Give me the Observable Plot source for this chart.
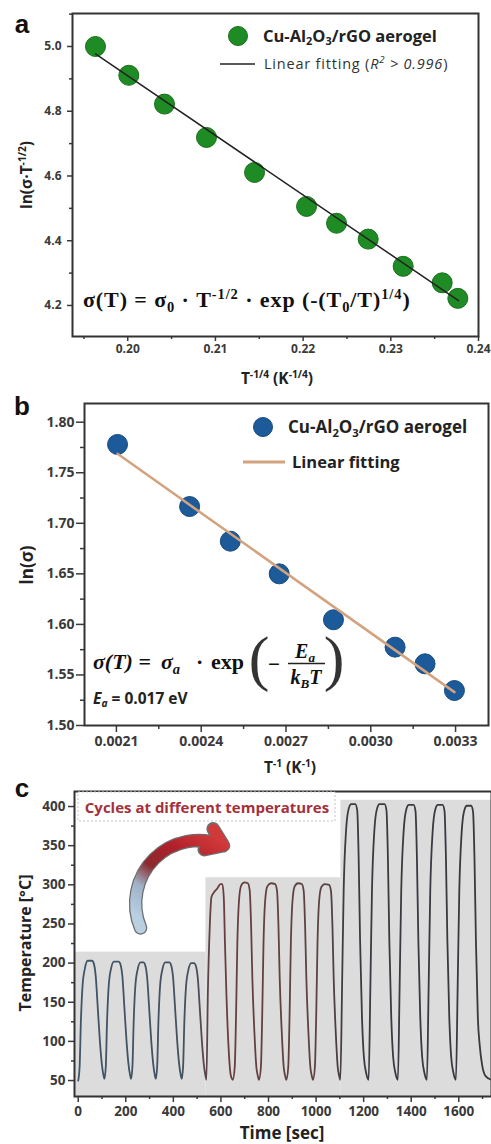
<!DOCTYPE html>
<html><head><meta charset="utf-8">
<script src="https://cdn.jsdelivr.net/npm/d3@7"></script>
<script src="https://cdn.jsdelivr.net/npm/@observablehq/plot@0.6"></script>
<style>
body{margin:0;background:#fff;}
#wrap{position:relative;width:491px;height:1144px;overflow:hidden;background:#fff;}
</style></head><body><div id="wrap"></div>
<script>
// ---------- Panel a data ----------
const aX = [0.19632, 0.20012, 0.20419, 0.20898, 0.21446, 0.22039, 0.22381, 0.22742, 0.23141, 0.23586, 0.23764];
const aY = [5.000, 4.911, 4.822, 4.719, 4.611, 4.506, 4.454, 4.405, 4.321, 4.270, 4.222];
const aFitX = [0.19632, 0.23772];
const aFitY = [4.977, 4.215];
const aXTicks = [0.20, 0.21, 0.22, 0.23, 0.24];
const aXMinor = [0.195, 0.205, 0.215, 0.225, 0.235];
const aYTicks = [4.2, 4.4, 4.6, 4.8, 5.0];
const aYMinor = [4.3, 4.5, 4.7, 4.9, 5.1];

// ---------- Panel b data ----------
const bX = [0.002104, 0.002359, 0.002503, 0.002676, 0.002868, 0.003086, 0.003192, 0.003296];
const bY = [1.778, 1.7166, 1.6823, 1.650, 1.6046, 1.5775, 1.561, 1.5346];
const bFitX = [0.002104, 0.003296];
const bFitY = [1.7687, 1.533];
const bXTicks = [0.0021, 0.0024, 0.0027, 0.0030, 0.0033];
const bXMinor = [0.00225, 0.00255, 0.00285, 0.00315];
const bYTicks = [1.50, 1.55, 1.60, 1.65, 1.70, 1.75, 1.80];
const bYMinor = [1.525, 1.575, 1.625, 1.675, 1.725, 1.775];

// ---------- Panel c data ----------
const tempTrace = [
 [0,50],[6,68],[11,123],[18,170],[28,193],[40,203],[58,203],[66,199],[74,182],[82,144],[91,101],[99,72],[106,57],[110,52],
 [116,68],[121,123],[128,170],[138,193],[150,202],[170,202],[178,198],[186,182],[194,144],[203,101],[211,72],[218,57],[222,52],
 [228,68],[233,123],[240,170],[250,192],[262,201],[274,201],[282,197],[290,181],[298,144],[307,101],[315,72],[322,57],[326,52],
 [332,68],[337,123],[344,170],[354,192],[366,201],[383,201],[391,197],[399,181],[407,144],[416,101],[424,72],[431,57],[435,52],
 [441,68],[446,123],[453,169],[463,191],[475,200],[487,200],[495,196],[503,180],[511,143],[520,100],[528,71],[535,56],[539,51],
 [545,161],[553,246],[560,284],[570,290],[584,295],[598,301],[606,301],[612,284],[617,225],[623,161],[632,93],[640,59],[645,53],[650,51],
 [658,67],[664,140],[669,225],[676,280],[685,299],[699,303],[713,302],[721,293],[727,246],[732,182],[741,110],[749,67],[755,56],[760,51],
 [768,67],[774,140],[779,225],[786,280],[795,298],[810,302],[828,301],[836,292],[842,246],[847,182],[856,110],[864,67],[870,56],[875,51],
 [883,67],[889,140],[894,225],[901,280],[910,298],[924,302],[940,301],[948,292],[954,246],[959,182],[968,110],[976,67],[982,56],[987,51],
 [995,67],[1001,140],[1006,225],[1013,280],[1022,297],[1036,301],[1055,300],[1063,291],[1069,245],[1074,181],[1083,110],[1091,67],[1097,56],[1102,51],
 [1109,165],[1116,293],[1126,369],[1137,397],[1148,403],[1165,403],[1173,395],[1179,335],[1185,229],[1193,131],[1201,80],[1211,59],[1221,51],
 [1228,165],[1235,293],[1245,369],[1256,397],[1267,403],[1288,403],[1296,395],[1302,335],[1308,229],[1316,131],[1324,80],[1334,59],[1344,51],
 [1351,165],[1358,292],[1368,368],[1379,396],[1390,402],[1410,402],[1418,394],[1424,334],[1430,229],[1438,131],[1446,80],[1456,59],[1466,51],
 [1473,165],[1480,292],[1490,368],[1501,396],[1512,402],[1532,402],[1540,394],[1546,334],[1552,229],[1560,131],[1568,80],[1578,59],[1588,51],
 [1595,165],[1602,291],[1612,367],[1623,395],[1634,401],[1652,401],[1660,393],[1666,333],[1672,229],[1680,131],[1688,95],[1698,70],[1712,56],[1737,51]
];
const bandStart = [-15.6, 537, 1104];
const bandEnd = [537, 1104, 1737.5];
const bandTop = [214, 309, 408];
const cXTicks = [0, 200, 400, 600, 800, 1000, 1200, 1400, 1600];
const cXMinor = [100, 300, 500, 700, 900, 1100, 1300, 1500, 1700];
const cYTicks = [50, 100, 150, 200, 250, 300, 350, 400];
const cYMinor = [75, 125, 175, 225, 275, 325, 375];
const arrowTail = [262, 245];
const arrowHead = [611, 350];

// ---------- helpers ----------
const W = 491;
const SANS = "'Open Sans', 'DejaVu Sans', sans-serif";
const SERIF = "'Liberation Serif', 'DejaVu Serif', serif";
const LAB = "'Liberation Sans', Arial, sans-serif";
const wrap = document.getElementById("wrap");

function rich(svg, o, parts) {
  const size = o.size;
  const t = d3.select(svg).append("text")
    .attr("font-family", o.family || SANS)
    .attr("font-size", size)
    .attr("font-weight", o.weight || "bold")
    .attr("fill", o.fill || "#222")
    .attr("text-anchor", o.anchor || "start");
  if (o.rotate) t.attr("transform", `translate(${o.x},${o.y}) rotate(${o.rotate})`);
  else t.attr("x", o.x).attr("y", o.y);
  if (o.fontStyle) t.attr("font-style", o.fontStyle);
  if (o.ls) t.attr("letter-spacing", o.ls);
  let shift = 0;
  for (const p of parts) {
    const s = typeof p === "string" ? {t: p} : p;
    const target = s.sup ? -size * 0.38 : s.sub ? size * 0.22 : 0;
    const ts = t.append("tspan").text(s.t);
    if (target !== shift) ts.attr("dy", target - shift);
    shift = target;
    if (s.sup || s.sub) ts.attr("font-size", size * 0.66);
    if (s.italic) ts.attr("font-style", "italic");
    if (s.w) ts.attr("font-weight", s.w);
  }
  return t;
}
function svgStyle(top) {
  return {position: "absolute", left: "0px", top: top + "px", background: "transparent", overflow: "visible", fontFamily: SANS};
}
function axes(xT, xM, yT, yM, fmtX, fmtY, o) {
  const common = {color: "#3a3a3a", fontWeight: "bold", label: null, strokeWidth: 1.5};
  return [
    Plot.axisX(xT, {...common, tickSize: o.xt, tickPadding: o.xp, tickFormat: fmtX, fontSize: o.fs}),
    Plot.axisX(xM, {...common, tickSize: o.xm, tickFormat: () => "", fontSize: o.fs}),
    Plot.axisY(yT, {...common, tickSize: o.yt, tickPadding: o.yp, tickFormat: fmtY, fontSize: o.fs}),
    Plot.axisY(yM, {...common, tickSize: o.ym, tickFormat: () => "", fontSize: o.fs})
  ];
}
function panelLabel(svg, ch, x, y) {
  d3.select(svg).append("text").attr("x", x).attr("y", y)
    .attr("font-family", LAB).attr("font-weight", "bold").attr("font-size", 26).attr("fill", "#111").text(ch);
}
const chemParts = ["Cu-Al", {t: "2", sub: true}, "O", {t: "3", sub: true}, "/rGO aerogel"];

// ---------- Panel a ----------
const ptsA = aX.map((x, i) => ({x, y: aY[i]}));
const fitA = aFitX.map((x, i) => ({x, y: aFitY[i]}));
const svgA = Plot.plot({
  width: W, height: 390,
  marginTop: 13, marginRight: 13, marginBottom: 54, marginLeft: 72,
  x: {domain: [0.1937, 0.2400], label: null},
  y: {domain: [4.1042, 5.1019], label: null},
  style: svgStyle(0),
  marks: [
    ...axes(aXTicks, aXMinor, aYTicks, aYMinor, d => d.toFixed(2), d => d.toFixed(1),
      {xt: 5, xp: 3, xm: 3, yt: 5, yp: 6, ym: 3, fs: 12}),
    Plot.dot(ptsA, {x: "x", y: "y", r: 10, fill: "#1f8b24", stroke: "#1a6e1d", strokeWidth: 1}),
    Plot.line(fitA, {x: "x", y: "y", stroke: "#222", strokeWidth: 1.5}),
    Plot.frame({stroke: "#333", strokeWidth: 2})
  ]
});
wrap.appendChild(svgA);
panelLabel(svgA, "a", 22, 33);
{
  const s = d3.select(svgA);
  s.append("circle").attr("cx", 238).attr("cy", 36).attr("r", 9.5).attr("fill", "#1f8b24").attr("stroke", "#1a6e1d");
  rich(svgA, {x: 263, y: 41.5, size: 16.5}, chemParts);
  s.append("line").attr("x1", 220).attr("x2", 255).attr("y1", 64).attr("y2", 64).attr("stroke", "#222").attr("stroke-width", 1.5);
  rich(svgA, {x: 264, y: 68.5, size: 14.5, weight: "normal", fill: "#333", ls: 0.8},
    ["Linear fitting (", {t: "R", italic: true}, {t: "2", sup: true, italic: true}, {t: " > 0.996", italic: true}, ")"]);
  rich(svgA, {x: 83, y: 307, size: 22, family: SERIF, fill: "#111", ls: 0.9},
    ["σ(T) = σ", {t: "0", sub: true}, " · T", {t: "-1/2", sup: true}, " · exp (-(T", {t: "0", sub: true}, "/T)", {t: "1/4", sup: true}, ")"]);
  rich(svgA, {x: 32, y: 175, size: 15.5, anchor: "middle", rotate: -90}, ["ln(σ·T", {t: "-1/2", sup: true}, ")"]);
  rich(svgA, {x: 277, y: 384, size: 15.5, anchor: "middle"}, ["T", {t: "-1/4", sup: true}, " (K", {t: "-1/4", sup: true}, ")"]);
}

// ---------- Panel b ----------
const ptsB = bX.map((x, i) => ({x, y: bY[i]}));
const fitB = bFitX.map((x, i) => ({x, y: bFitY[i]}));
const svgB = Plot.plot({
  width: W, height: 390,
  marginTop: 13, marginRight: 3, marginBottom: 55, marginLeft: 84,
  x: {domain: [0.0019871, 0.0034165], label: null},
  y: {domain: [1.50, 1.8185], label: null},
  style: svgStyle(390),
  marks: [
    ...axes(bXTicks, bXMinor, bYTicks, bYMinor, d => d.toFixed(4), d => d.toFixed(2),
      {xt: 7, xp: 4, xm: 4, yt: 8, yp: 2, ym: 4, fs: 14}),
    Plot.dot(ptsB, {x: "x", y: "y", r: 10, fill: "#1c5a99", stroke: "#164a80", strokeWidth: 1}),
    Plot.line(fitB, {x: "x", y: "y", stroke: "#d2a37e", strokeWidth: 2.5}),
    Plot.frame({stroke: "#333", strokeWidth: 2})
  ]
});
wrap.appendChild(svgB);
panelLabel(svgB, "b", 22, 25);
{
  const s = d3.select(svgB);
  s.append("circle").attr("cx", 263).attr("cy", 37).attr("r", 9.5).attr("fill", "#1c5a99").attr("stroke", "#164a80");
  rich(svgB, {x: 288, y: 43, size: 17}, chemParts);
  s.append("line").attr("x1", 243).attr("x2", 285).attr("y1", 72).attr("y2", 72).attr("stroke", "#d2a37e").attr("stroke-width", 3);
  rich(svgB, {x: 292, y: 78, size: 16.5}, ["Linear fitting"]);
  // equation
  rich(svgB, {x: 93, y: 279, size: 22, family: SERIF, fill: "#111"}, [{t: "σ(T)", italic: true}, " ="]);
  rich(svgB, {x: 161, y: 279, size: 22, family: SERIF, fill: "#111"}, [{t: "σ", italic: true}, {t: "a", sub: true, italic: true}]);
  rich(svgB, {x: 196, y: 279, size: 22, family: SERIF, fill: "#111"}, ["·"]);
  rich(svgB, {x: 211, y: 279, size: 22, family: SERIF, fill: "#111"}, ["exp"]);
  rich(svgB, {x: 259, y: 289, size: 62, family: SERIF, weight: "normal", fill: "#333", anchor: "middle"}, ["("]);
  rich(svgB, {x: 268, y: 281, size: 21, family: SERIF, fill: "#111"}, ["−"]);
  rich(svgB, {x: 305, y: 268, size: 20, family: SERIF, fill: "#111", anchor: "middle"},
    [{t: "E", italic: true}, {t: "a", sub: true, italic: true}]);
  s.append("line").attr("x1", 288).attr("x2", 325).attr("y1", 273.5).attr("y2", 273.5).attr("stroke", "#222").attr("stroke-width", 1.5);
  rich(svgB, {x: 306, y: 294, size: 20, family: SERIF, fill: "#111", anchor: "middle"},
    [{t: "k", italic: true}, {t: "B", sub: true, italic: true}, {t: "T", italic: true}]);
  rich(svgB, {x: 334, y: 289, size: 62, family: SERIF, weight: "normal", fill: "#333", anchor: "middle"}, [")"]);
  rich(svgB, {x: 93, y: 314, size: 15.5},
    [{t: "E", italic: true}, {t: "a", sub: true, italic: true}, " = 0.017 eV"]);
  rich(svgB, {x: 33, y: 175, size: 17, anchor: "middle", rotate: -90}, ["ln(σ)"]);
  rich(svgB, {x: 290, y: 383, size: 15.5, anchor: "middle"}, ["T", {t: "-1", sup: true}, " (K", {t: "-1", sup: true}, ")"]);
}

// ---------- Panel c ----------
const bands = bandStart.map((x1, i) => ({x1, x2: bandEnd[i], top: bandTop[i]}));
const cBottom = 29.6;
const svgC = Plot.plot({
  width: W, height: 364,
  marginTop: 11, marginRight: 0, marginBottom: 48, marginLeft: 74,
  x: {domain: [-15.6, 1737.5], label: null},
  y: {domain: [cBottom, 419.2], label: null},
  style: svgStyle(780),
  marks: [
    Plot.rect(bands, {x1: "x1", x2: "x2", y1: () => cBottom, y2: "top", fill: "#dcdcdc"}),
    ...axes(cXTicks, cXMinor, cYTicks, cYMinor, d => String(d), d => String(d),
      {xt: 6, xp: 4, xm: 3, yt: 6, yp: 3, ym: 3, fs: 13.5}),
    Plot.line(tempTrace, {x: d => d[0], y: d => d[1], curve: "monotone-x", stroke: "url(#lineGrad)", strokeWidth: 1.8, clip: true}),
    Plot.arrow([{a: arrowTail, b: arrowHead}], {x1: d => d.a[0], y1: d => d.a[1], x2: d => d.b[0], y2: d => d.b[1],
      bend: 68, stroke: "#6d6d6d", strokeWidth: 13.5, headLength: 2.2, headAngle: 70}),
    Plot.arrow([{a: arrowTail, b: arrowHead}], {x1: d => d.a[0], y1: d => d.a[1], x2: d => d.b[0], y2: d => d.b[1],
      bend: 68, stroke: "url(#arrowGrad)", strokeWidth: 11, headLength: 2.6, headAngle: 70}),
    Plot.frame({stroke: "#333", strokeWidth: 2})
  ]
});
wrap.appendChild(svgC);
{
  const s = d3.select(svgC);
  const defs = s.insert("defs", ":first-child");
  const lg = defs.append("linearGradient").attr("id", "lineGrad").attr("x1", 0).attr("y1", 0).attr("x2", 1).attr("y2", 0);
  [[0, "#3f5568"], [0.28, "#45505d"], [0.33, "#6a3d3d"], [0.6, "#5a4343"], [0.65, "#3a3a42"], [1, "#38383e"]]
    .forEach(([o, c]) => lg.append("stop").attr("offset", o).attr("stop-color", c));
  const ag = defs.append("linearGradient").attr("id", "arrowGrad").attr("x1", 0.2).attr("y1", 1).attr("x2", 0.8).attr("y2", 0);
  [[0, "#b9cfe2"], [0.25, "#9fb3c8"], [0.45, "#8a2a2e"], [0.7, "#b0202a"], [1, "#d23a3a"]]
    .forEach(([o, c]) => ag.append("stop").attr("offset", o).attr("stop-color", c));
  panelLabel(svgC, "c", 22, 17);
  s.append("rect").attr("x", 78).attr("y", 12).attr("width", 257).attr("height", 29)
    .attr("fill", "#fff").attr("stroke", "#c4c4c4").attr("stroke-dasharray", "2,2").attr("stroke-width", 1);
  rich(svgC, {x: 207, y: 33, size: 15, anchor: "middle", fill: "#a3303a"}, ["Cycles at different temperatures"]);
  rich(svgC, {x: 30.5, y: 163, size: 16, anchor: "middle", rotate: -90}, ["Temperature [°C]"]);
  rich(svgC, {x: 282, y: 358.5, size: 17, anchor: "middle"}, ["Time [sec]"]);
}
</script></body></html>
